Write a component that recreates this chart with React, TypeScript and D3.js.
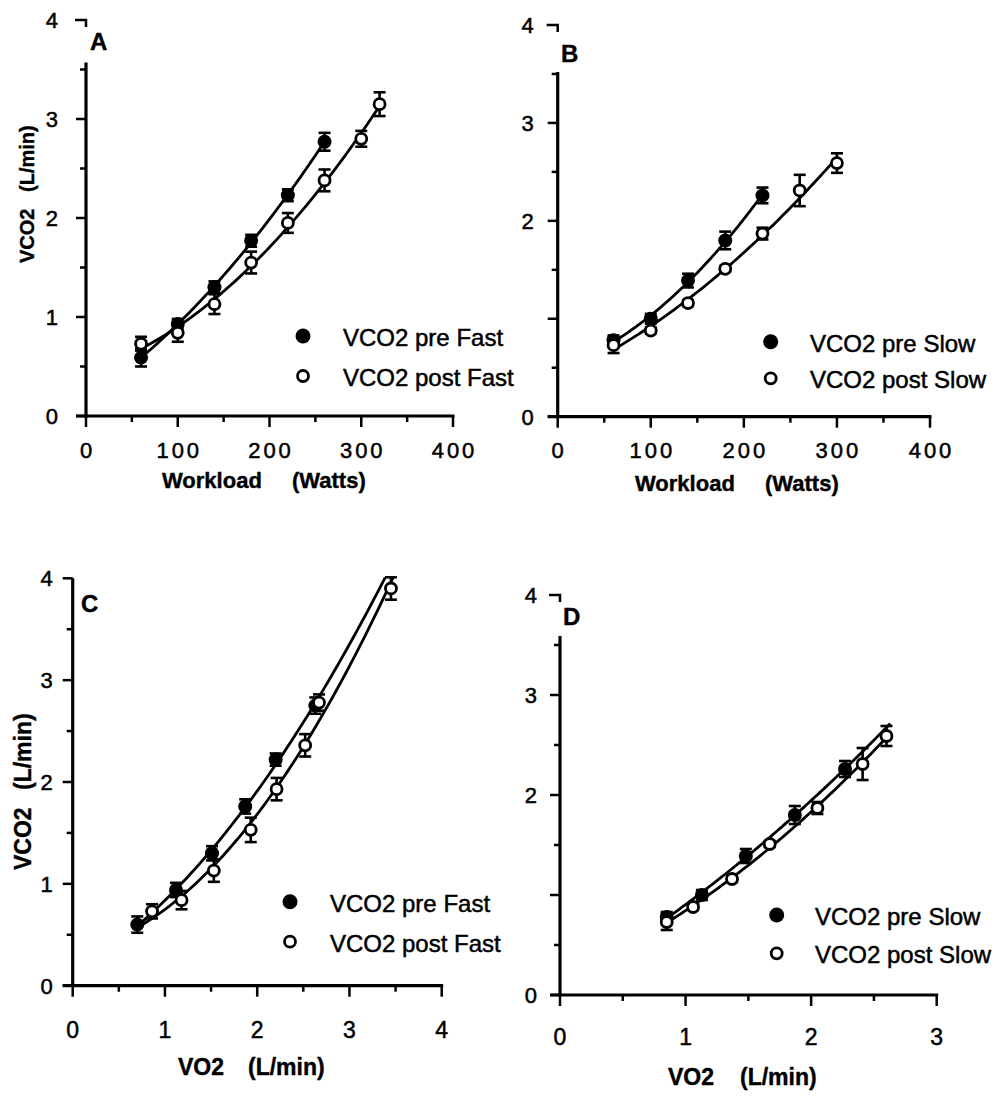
import React from 'react';
import * as d3 from 'd3';

// ---------- DATA ----------
// Panel A / C : Fast group
const workloadPreFast = [60, 100, 140, 180, 220, 260];
const vco2PreFast = [0.59, 0.93, 1.30, 1.77, 2.23, 2.77];
const errPreFast = [0.09, 0.05, 0.06, 0.06, 0.06, 0.09];
const workloadPostFast = [60, 100, 140, 180, 220, 260, 300, 320];
const vco2PostFast = [0.73, 0.84, 1.13, 1.55, 1.95, 2.38, 2.80, 3.15];
const errPostFast = [0.07, 0.09, 0.10, 0.11, 0.10, 0.11, 0.08, 0.12];

const vo2PreFast = [0.70, 1.12, 1.51, 1.87, 2.20, 2.63];
const vco2PreFastC = [0.60, 0.94, 1.30, 1.76, 2.22, 2.75];
const errPreFastC = [0.08, 0.07, 0.07, 0.07, 0.06, 0.08];
const vo2PostFast = [0.86, 1.18, 1.53, 1.93, 2.21, 2.52, 2.67, 3.45];
const vco2PostFastC = [0.73, 0.84, 1.13, 1.53, 1.93, 2.36, 2.78, 3.90];
const errPostFastC = [0.07, 0.09, 0.11, 0.12, 0.11, 0.11, 0.08, 0.11];

// Panel B / D : Slow group
const workloadPreSlow = [60, 100, 140, 180, 220];
const vco2PreSlow = [0.78, 1.00, 1.39, 1.80, 2.26];
const errPreSlow = [0.05, 0.05, 0.07, 0.09, 0.08];
const workloadPostSlow = [60, 100, 140, 180, 220, 260, 300];
const vco2PostSlow = [0.73, 0.88, 1.16, 1.51, 1.87, 2.31, 2.59];
const errPostSlow = [0.08, 0.03, 0.03, 0.03, 0.06, 0.16, 0.10];

const vo2PreSlow = [0.85, 1.13, 1.48, 1.87, 2.27];
const vo2PostSlow = [0.85, 1.06, 1.37, 1.67, 2.05, 2.41, 2.60];

// Labels
const legendFast = ['VCO2 pre Fast', 'VCO2 post Fast'];
const legendSlow = ['VCO2 pre Slow', 'VCO2 post Slow'];
const xTicksWorkload = [0, 100, 200, 300, 400];
const xTicksVO2C = [0, 1, 2, 3, 4];
const xTicksVO2D = [0, 1, 2, 3];
const yTicksFull = [0, 1, 2, 3, 4];
const yTicksNoOne = [0, 2, 3, 4];

// ---------- HELPERS ----------
function quadFit(xs: number[], ys: number[]) {
  const n = xs.length;
  let s1 = 0, s2 = 0, s3 = 0, s4 = 0, t0 = 0, t1 = 0, t2 = 0;
  for (let i = 0; i < n; i++) {
    const x = xs[i], y = ys[i];
    s1 += x; s2 += x * x; s3 += x * x * x; s4 += x * x * x * x;
    t0 += y; t1 += x * y; t2 += x * x * y;
  }
  const M = [
    [n, s1, s2],
    [s1, s2, s3],
    [s2, s3, s4],
  ];
  const det = (m: number[][]) =>
    m[0][0] * (m[1][1] * m[2][2] - m[1][2] * m[2][1]) -
    m[0][1] * (m[1][0] * m[2][2] - m[1][2] * m[2][0]) +
    m[0][2] * (m[1][0] * m[2][1] - m[1][1] * m[2][0]);
  const D = det(M);
  const rhs = [t0, t1, t2];
  const coef = [0, 1, 2].map((k) => {
    const mk = M.map((row, r) => row.map((v, c) => (c === k ? rhs[r] : v)));
    return det(mk) / D;
  });
  return (x: number) => coef[0] + coef[1] * x + coef[2] * x * x;
}

type Series = {
  x: number[];
  y: number[];
  err: number[];
  filled: boolean;
  fitFrom: number;
  fitTo: number;
};

type PanelCfg = {
  id: string;
  xDomain: [number, number];
  xRange: [number, number];
  yRange: [number, number];
  axisTop: number;
  brk: boolean;
  xMajor: number[];
  xMinorStep: number;
  yLabels: number[];
  yLabelDx: number;
  xLabelDy: number;
  xLabelSize: number;
  xLabelSpacing: number;
  letter: { x: number; y: number };
  legend: { cx: number; cy1: number; cy2: number; tx: number; dy: number };
  legendLabels: string[];
  series: Series[];
  xTitle: { a: string; b: string; x1: number; x2: number; y: number; size: number };
  yTitle?: { x: number; y: number; gap: number; size: number };
};

const FONT = '"Liberation Sans", Arial, Helvetica, sans-serif';
const TXT = { fill: '#000', stroke: '#000', strokeWidth: 0.5 };
const BTXT = { fill: '#000', stroke: '#000', strokeWidth: 0.4 };

const panels: PanelCfg[] = [
  {
    id: 'A',
    xDomain: [0, 400],
    xRange: [86, 453],
    yRange: [416, 20],
    axisTop: 3.57,
    brk: true,
    xMajor: xTicksWorkload,
    xMinorStep: 50,
    yLabels: yTicksFull,
    yLabelDx: -28,
    xLabelDy: 42,
    xLabelSize: 22,
    xLabelSpacing: 3,
    letter: { x: 90, y: 50 },
    legend: { cx: 303, cy1: 336, cy2: 376, tx: 343, dy: 10 },
    legendLabels: legendFast,
    series: [
      { x: workloadPreFast, y: vco2PreFast, err: errPreFast, filled: true, fitFrom: 60, fitTo: 260 },
      { x: workloadPostFast, y: vco2PostFast, err: errPostFast, filled: false, fitFrom: 60, fitTo: 320 },
    ],
    xTitle: { a: 'Workload', b: '(Watts)', x1: 162, x2: 292, y: 488, size: 22 },
    yTitle: { x: 34, y: 263, gap: 71, size: 20 },
  },
  {
    id: 'B',
    xDomain: [0, 400],
    xRange: [557.7, 930],
    yRange: [416.7, 25],
    axisTop: 3.52,
    brk: true,
    xMajor: xTicksWorkload,
    xMinorStep: 50,
    yLabels: yTicksNoOne,
    yLabelDx: -24,
    xLabelDy: 41,
    xLabelSize: 22,
    xLabelSpacing: 3,
    letter: { x: 561, y: 62 },
    legend: { cx: 770.7, cy1: 341.7, cy2: 378.3, tx: 810, dy: 10 },
    legendLabels: legendSlow,
    series: [
      { x: workloadPreSlow, y: vco2PreSlow, err: errPreSlow, filled: true, fitFrom: 60, fitTo: 220 },
      { x: workloadPostSlow, y: vco2PostSlow, err: errPostSlow, filled: false, fitFrom: 60, fitTo: 300 },
    ],
    xTitle: { a: 'Workload', b: '(Watts)', x1: 635, x2: 765, y: 491, size: 22 },
  },
  {
    id: 'C',
    xDomain: [0, 4],
    xRange: [72.7, 441.7],
    yRange: [985.7, 578.3],
    axisTop: 4,
    brk: false,
    xMajor: xTicksVO2C,
    xMinorStep: 0.5,
    yLabels: yTicksFull,
    yLabelDx: -20,
    xLabelDy: 52,
    xLabelSize: 23,
    xLabelSpacing: 0,
    letter: { x: 81, y: 612 },
    legend: { cx: 290, cy1: 901.7, cy2: 941.7, tx: 330, dy: 10 },
    legendLabels: legendFast,
    series: [
      { x: vo2PreFast, y: vco2PreFastC, err: errPreFastC, filled: true, fitFrom: 0.7, fitTo: 3.6 },
      { x: vo2PostFast, y: vco2PostFastC, err: errPostFastC, filled: false, fitFrom: 0.72, fitTo: 3.6 },
    ],
    xTitle: { a: 'VO2', b: '(L/min)', x1: 178, x2: 248, y: 1075, size: 23 },
    yTitle: { x: 31, y: 870, gap: 80, size: 23 },
  },
  {
    id: 'D',
    xDomain: [0, 3],
    xRange: [560, 936.7],
    yRange: [995, 595],
    axisTop: 3.59,
    brk: true,
    xMajor: xTicksVO2D,
    xMinorStep: 0.5,
    yLabels: yTicksNoOne,
    yLabelDx: -23,
    xLabelDy: 50,
    xLabelSize: 23,
    xLabelSpacing: 0,
    letter: { x: 563, y: 625 },
    legend: { cx: 776.7, cy1: 915, cy2: 953.3, tx: 815, dy: 10 },
    legendLabels: legendSlow,
    series: [
      { x: vo2PreSlow, y: vco2PreSlow, err: errPreSlow, filled: true, fitFrom: 0.84, fitTo: 2.63 },
      { x: vo2PostSlow, y: vco2PostSlow, err: errPostSlow, filled: false, fitFrom: 0.84, fitTo: 2.63 },
    ],
    xTitle: { a: 'VO2', b: '(L/min)', x1: 668, x2: 740, y: 1085, size: 23 },
  },
];

function Panel({ cfg }: { cfg: PanelCfg }) {
  const x = d3.scaleLinear().domain(cfg.xDomain).range(cfg.xRange);
  const y = d3.scaleLinear().domain([0, 4]).range(cfg.yRange);
  const x0 = cfg.xRange[0];
  const y0 = cfg.yRange[0];
  const xMinor = d3.range(cfg.xDomain[0], cfg.xDomain[1] + 1e-9, cfg.xMinorStep);
  const yMinor = d3.range(0, cfg.axisTop + 1e-9, 0.5);
  const clipId = 'clip' + cfg.id;
  const line = d3
    .line<[number, number]>()
    .x((d) => x(d[0]))
    .y((d) => y(d[1]));

  return (
    <g>
      <defs>
        <clipPath id={clipId}>
          <rect x={x0 - 30} y={y(4) - 1} width={cfg.xRange[1] - x0 + 60} height={y0 - y(4) + 2} />
        </clipPath>
      </defs>
      {/* axes */}
      <line x1={x0} x2={x0} y1={y0 + 1.5} y2={y(cfg.axisTop)} stroke="#000" strokeWidth={3.2} />
      <line x1={x0 - 10} x2={cfg.xRange[1] + 1.5} y1={y0} y2={y0} stroke="#000" strokeWidth={3.2} />
      {/* y ticks */}
      {yMinor.map((v) => {
        const major = Math.abs(v - Math.round(v)) < 1e-6;
        return (
          <line key={'yt' + v} x1={x0 - (major ? 10 : 6)} x2={x0} y1={y(v)} y2={y(v)} stroke="#000" strokeWidth={2.5} />
        );
      })}
      {cfg.brk && (
        <path
          d={`M${x0 - 11},${y(4)} H${x0} V${y(4) + 7}`}
          fill="none"
          stroke="#000"
          strokeWidth={2.5}
        />
      )}
      {/* x ticks */}
      {xMinor.map((v) => {
        const major = cfg.xMajor.some((m) => Math.abs(m - v) < 1e-6);
        return (
          <line key={'xt' + v} x1={x(v)} x2={x(v)} y1={y0} y2={y0 + (major ? 11 : 6)} stroke="#000" strokeWidth={2.5} />
        );
      })}
      {/* y labels */}
      {cfg.yLabels.map((v) => (
        <text key={'yl' + v} x={x0 + cfg.yLabelDx} y={y(v)} dy="0.36em" textAnchor="end" fontFamily={FONT} fontSize={22} {...TXT}>
          {v}
        </text>
      ))}
      {/* x labels */}
      {cfg.xMajor.map((v) => (
        <text
          key={'xl' + v}
          x={x(v) + cfg.xLabelSpacing / 2}
          y={y0 + cfg.xLabelDy}
          textAnchor="middle"
          fontFamily={FONT}
          fontSize={cfg.xLabelSize}
          letterSpacing={cfg.xLabelSpacing}
          {...TXT}
        >
          {v}
        </text>
      ))}
      {/* titles */}
      <text x={cfg.xTitle.x1} y={cfg.xTitle.y} fontFamily={FONT} fontWeight="bold" fontSize={cfg.xTitle.size} {...BTXT}>
        {cfg.xTitle.a}
      </text>
      <text x={cfg.xTitle.x2} y={cfg.xTitle.y} fontFamily={FONT} fontWeight="bold" fontSize={cfg.xTitle.size} {...BTXT}>
        {cfg.xTitle.b}
      </text>
      {cfg.yTitle && (
        <g transform={`translate(${cfg.yTitle.x},${cfg.yTitle.y}) rotate(-90)`}>
          <text x={0} y={0} fontFamily={FONT} fontWeight="bold" fontSize={cfg.yTitle.size} {...BTXT}>
            VCO2
          </text>
          <text x={cfg.yTitle.gap} y={0} fontFamily={FONT} fontWeight="bold" fontSize={cfg.yTitle.size} {...BTXT}>
            (L/min)
          </text>
        </g>
      )}
      <text x={cfg.letter.x} y={cfg.letter.y} fontFamily={FONT} fontWeight="bold" fontSize={24} {...BTXT}>
        {cfg.id}
      </text>
      {/* fitted curves */}
      <g clipPath={`url(#${clipId})`}>
        {cfg.series.map((s, i) => {
          const f = quadFit(s.x, s.y);
          const pts: [number, number][] = d3
            .range(0, 81)
            .map((k) => s.fitFrom + ((s.fitTo - s.fitFrom) * k) / 80)
            .map((xv) => [xv, f(xv)] as [number, number]);
          return <path key={'c' + i} d={line(pts) || ''} fill="none" stroke="#000" strokeWidth={2.8} />;
        })}
      </g>
      {/* error bars */}
      {cfg.series.map((s, i) =>
        s.x.map((xv, j) => {
          const yv = s.y[j];
          const e = s.err[j];
          const cx = x(xv);
          return (
            <g key={'e' + i + '-' + j} stroke="#000" strokeWidth={2.6}>
              <line x1={cx} x2={cx} y1={y(yv + e)} y2={y(yv - e)} />
              <line x1={cx - 6} x2={cx + 6} y1={y(yv + e)} y2={y(yv + e)} />
              <line x1={cx - 6} x2={cx + 6} y1={y(yv - e)} y2={y(yv - e)} />
            </g>
          );
        })
      )}
      {/* markers */}
      {cfg.series.map((s, i) =>
        s.x.map((xv, j) =>
          s.filled ? (
            <circle key={'m' + i + '-' + j} cx={x(xv)} cy={y(s.y[j])} r={7} fill="#000" />
          ) : (
            <circle
              key={'m' + i + '-' + j}
              cx={x(xv)}
              cy={y(s.y[j])}
              r={5.5}
              fill="#fff"
              stroke="#000"
              strokeWidth={2.8}
            />
          )
        )
      )}
      {/* legend */}
      <circle cx={cfg.legend.cx} cy={cfg.legend.cy1} r={7.5} fill="#000" />
      <circle cx={cfg.legend.cx} cy={cfg.legend.cy2} r={5.5} fill="#fff" stroke="#000" strokeWidth={2.8} />
      <text x={cfg.legend.tx} y={cfg.legend.cy1 + cfg.legend.dy} fontFamily={FONT} fontSize={24} {...TXT}>
        {cfg.legendLabels[0]}
      </text>
      <text x={cfg.legend.tx} y={cfg.legend.cy2 + cfg.legend.dy} fontFamily={FONT} fontSize={24} {...TXT}>
        {cfg.legendLabels[1]}
      </text>
    </g>
  );
}

export default function App() {
  return (
    <svg
      width={1005}
      height={1096}
      viewBox="0 0 1005 1096"
      style={{ position: 'absolute', left: 0, top: 0, background: '#fff' }}
    >
      <rect x={0} y={0} width={1005} height={1096} fill="#fff" />
      {panels.map((p) => (
        <Panel key={p.id} cfg={p} />
      ))}
    </svg>
  );
}
